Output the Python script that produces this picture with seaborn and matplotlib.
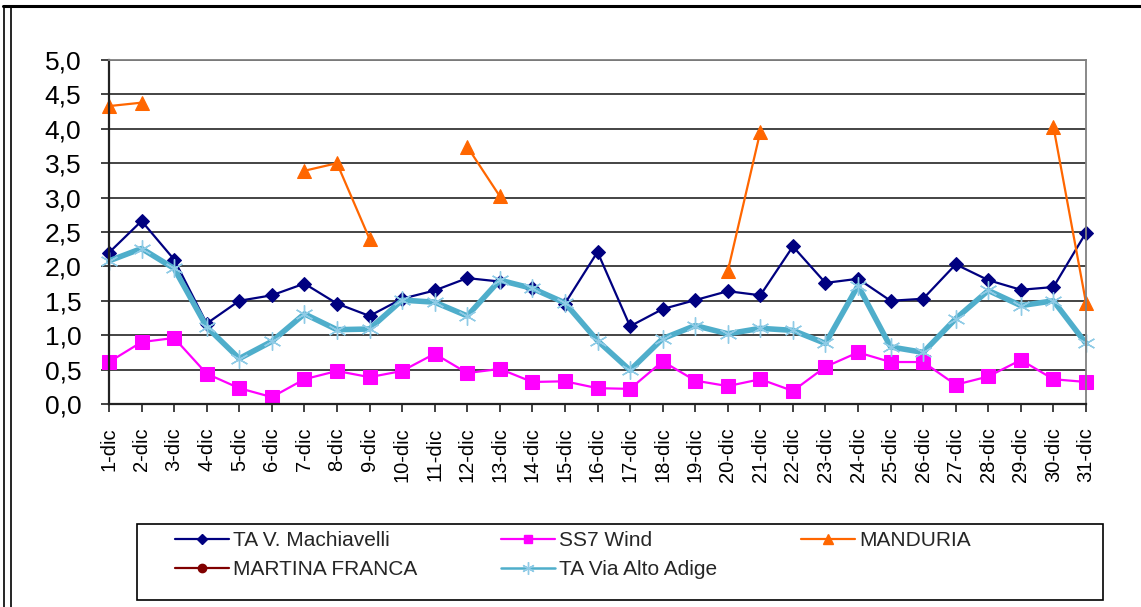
import numpy as np
import pandas as pd
import matplotlib
matplotlib.use("Agg")
import matplotlib.pyplot as plt
import seaborn as sns
from matplotlib.lines import Line2D
from matplotlib.patches import Rectangle
from matplotlib.ticker import FuncFormatter

nan = np.nan

# ---- data ----
days = ["1-dic", "2-dic", "3-dic", "4-dic", "5-dic", "6-dic", "7-dic", "8-dic",
        "9-dic", "10-dic", "11-dic", "12-dic", "13-dic", "14-dic", "15-dic",
        "16-dic", "17-dic", "18-dic", "19-dic", "20-dic", "21-dic", "22-dic",
        "23-dic", "24-dic", "25-dic", "26-dic", "27-dic", "28-dic", "29-dic",
        "30-dic", "31-dic"]

machiavelli = [2.20, 2.66, 2.10, 1.17, 1.50, 1.58, 1.75, 1.46, 1.28, 1.53, 1.65,
               1.83, 1.78, 1.69, 1.46, 2.21, 1.13, 1.38, 1.51, 1.64, 1.58, 2.29,
               1.76, 1.82, 1.50, 1.53, 2.03, 1.80, 1.66, 1.70, 2.49]
ss7_wind = [0.61, 0.90, 0.96, 0.44, 0.23, 0.10, 0.36, 0.48, 0.39, 0.48, 0.73,
            0.45, 0.51, 0.32, 0.33, 0.23, 0.22, 0.62, 0.34, 0.26, 0.36, 0.19,
            0.54, 0.75, 0.61, 0.61, 0.28, 0.40, 0.64, 0.36, 0.32]
manduria = [4.33, 4.38, nan, nan, nan, nan, 3.39, 3.50, 2.40, nan, nan,
            3.74, 3.02, nan, nan, nan, nan, nan, nan, 1.93, 3.96, nan,
            nan, nan, nan, nan, nan, nan, nan, 4.03, 1.47]
martina_franca = [nan] * 31
alto_adige = [2.08, 2.26, 1.97, 1.12, 0.66, 0.91, 1.31, 1.08, 1.09, 1.51, 1.48,
              1.28, 1.80, 1.68, 1.47, 0.92, 0.49, 0.95, 1.14, 1.02, 1.10, 1.07,
              0.88, 1.72, 0.83, 0.75, 1.24, 1.65, 1.43, 1.50, 0.88]

labels = ["TA V. Machiavelli", "SS7 Wind", "MANDURIA", "MARTINA FRANCA",
          "TA Via Alto Adige"]

# ---- style ----
sns.set_theme(style="white")
plt.rcParams["font.family"] = ["Liberation Sans", "DejaVu Sans"]

W, H = 1141, 607
def fx(p):
    return p / W
def fy(p):
    return 1 - p / H

fig = plt.figure(figsize=(W / 100, H / 100), dpi=100)
fig.patch.set_facecolor("white")
ax = fig.add_axes([fx(109), fy(404), fx(1086) - fx(109), fy(60) - fy(404)])
ax.set_facecolor("white")

x = np.arange(len(days))

NAVY = "#000080"
MAGENTA = "#FF00FF"
ORANGE = "#FF6600"
DARKRED = "#800000"
AQUA = "#4FAECB"
AQUA_MK = "#8FCBE6"

sns.lineplot(x=x, y=machiavelli, ax=ax, color=NAVY, lw=1.6, marker="D",
             ms=7, mec=NAVY, mfc=NAVY, errorbar=None, legend=False, clip_on=False)
sns.lineplot(x=x, y=ss7_wind, ax=ax, color=MAGENTA, lw=1.6, marker="s",
             ms=9.5, mec=MAGENTA, mfc=MAGENTA, errorbar=None, legend=False,
             clip_on=False)

man = pd.DataFrame({"x": x, "y": manduria})
man["seg"] = man["y"].isna().cumsum()
man = man.dropna()
sns.lineplot(data=man, x="x", y="y", units="seg", estimator=None, ax=ax,
             color=ORANGE, lw=1.6, marker="^", ms=9.5, mec=ORANGE, mfc=ORANGE,
             legend=False, clip_on=False)

sns.lineplot(x=x, y=alto_adige, ax=ax, color=AQUA, lw=4, marker=(6, 2, 0),
             ms=13, mec=AQUA_MK, mew=1.0, errorbar=None, legend=False,
             clip_on=False)

ax.set_xlim(0, len(days) - 1)
ax.set_ylim(0, 5)
ax.set_xticks(x)
ax.set_xticklabels(days, rotation=90, ha="center", va="top")
ax.set_yticks(np.arange(0, 5.01, 0.5))
ax.yaxis.set_major_formatter(FuncFormatter(lambda v, _: f"{v:.1f}".replace(".", ",")))
ax.set_xlabel("")
ax.set_ylabel("")

ax.grid(axis="y", color="#111111", lw=1.1)
ax.grid(axis="x", visible=False)
ax.set_axisbelow(True)

for side in ["left", "bottom"]:
    ax.spines[side].set_color("#222222")
    ax.spines[side].set_linewidth(1.6)
for side in ["top", "right"]:
    ax.spines[side].set_color("#808080")
    ax.spines[side].set_linewidth(1.3)

ax.tick_params(axis="both", direction="out", length=6, width=1.2, color="#222222",
               bottom=True, left=True)
ax.tick_params(axis="y", labelsize=19, pad=14, labelcolor="black")
ax.tick_params(axis="x", labelsize=14.5, pad=11, labelcolor="black")

# ---- legend ----
def handle(color, marker, ms, lw=1.6, mec=None, mew=1.0):
    return Line2D([], [], color=color, lw=lw, marker=marker, ms=ms,
                  mfc=color, mec=mec or color, mew=mew)

h_mach = handle(NAVY, "D", 5)
h_ss7 = handle(MAGENTA, "s", 6)
h_man = handle(ORANGE, "^", 7)
h_mf = handle(DARKRED, "o", 6)
h_alto = handle(AQUA, (6, 2, 0), 9, lw=1.8, mec=AQUA_MK)

order_h = [h_mach, h_mf, h_ss7, h_alto, h_man]
order_l = [labels[0], labels[3], labels[1], labels[4], labels[2]]
fig.legend(order_h, order_l, ncol=3, loc="upper left",
           bbox_to_anchor=(fx(175), fy(531)), bbox_transform=fig.transFigure,
           frameon=False, borderpad=0, borderaxespad=0, handlelength=2.6,
           handletextpad=0.2, columnspacing=4.0, labelspacing=0.5, fontsize=15)

fig.add_artist(Rectangle((fx(137), fy(600)), fx(1103) - fx(137), fy(524) - fy(600),
                         fill=False, ec="black", lw=1.2, transform=fig.transFigure))

# ---- outer frame ----
fig.add_artist(Line2D([fx(3), fx(1141)], [fy(6), fy(6)], color="black", lw=2.2,
                      transform=fig.transFigure))
fig.add_artist(Line2D([fx(4), fx(4)], [fy(6), fy(607)], color="black", lw=1.2,
                      transform=fig.transFigure))
fig.add_artist(Line2D([fx(10.5), fx(10.5)], [fy(6), fy(607)], color="black", lw=1.2,
                      transform=fig.transFigure))

fig.savefig("out.png", dpi=100, facecolor="white")
